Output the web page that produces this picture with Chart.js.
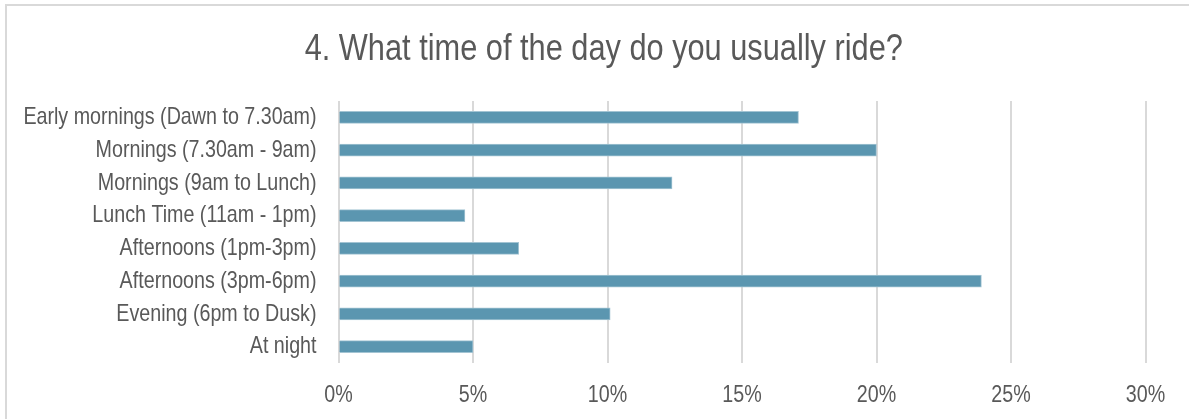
<!DOCTYPE html>
<html>
<head>
<meta charset="utf-8">
<script src="https://cdn.jsdelivr.net/npm/chart.js@4"></script>
<style>
  html, body { margin: 0; padding: 0; background: #ffffff; overflow: hidden; }
  #wrap { position: relative; width: 1189px; height: 419px; }
  #frame { position: absolute; left: 5px; top: 4px; width: 1200px; height: 430px;
           border-top: 2px solid #d9d9d9; border-left: 2px solid #d9d9d9; box-sizing: border-box; }
  canvas { position: absolute; left: 0; top: 0; }
  #title { position: absolute; left: 0; top: 28.5px; width: 1208px; text-align: center;
           font-family: 'Liberation Sans', Arial, sans-serif; font-size: 37.5px; line-height: 1;
           color: #595959; white-space: nowrap; }
  #title span { display: inline-block; transform: scaleX(0.82); transform-origin: 50% 50%; }
</style>
</head>
<body>
<div id="wrap">
  <div id="frame"></div>
  <canvas id="c" width="1189" height="419"></canvas>
  <div id="title"><span id="titleText"></span></div>
</div>
<script>
const titleText = "4. What time of the day do you usually ride?";
const categories = [
  "Early mornings (Dawn to 7.30am)",
  "Mornings (7.30am - 9am)",
  "Mornings (9am to Lunch)",
  "Lunch Time (11am - 1pm)",
  "Afternoons (1pm-3pm)",
  "Afternoons (3pm-6pm)",
  "Evening (6pm to Dusk)",
  "At night"
];
const shares = [17.1, 20.0, 12.4, 4.7, 6.7, 23.9, 10.1, 5.0];
const tickValues = [0, 5, 10, 15, 20, 25, 30];

document.getElementById("titleText").textContent = titleText;

// Emulate a narrow (condensed) face: draw canvas text horizontally compressed.
const NARROW = 0.82;
const origFill = CanvasRenderingContext2D.prototype.fillText;
CanvasRenderingContext2D.prototype.fillText = function (t, x, y, mw) {
  const w = this.measureText(t).width * NARROW;
  return origFill.call(this, t, x, y, mw !== undefined ? Math.min(mw, w) : w);
};

const FONT = "'Liberation Sans', Arial, sans-serif";
const TEXT = "#595959";

new Chart(document.getElementById("c"), {
  type: "bar",
  data: {
    labels: categories,
    datasets: [{
      data: shares,
      backgroundColor: "#5b96b0",
      borderColor: "#a3c4d3",
      borderWidth: 1,
      barThickness: 12
    }]
  },
  options: {
    indexAxis: "y",
    responsive: false,
    animation: false,
    layout: { padding: { left: 0, right: 43.5, top: 101, bottom: 8.9 } },
    plugins: {
      legend: { display: false },
      tooltip: { enabled: false },
      title: { display: false }
    },
    scales: {
      x: {
        min: 0, max: 30,
        afterBuildTicks: (axis) => { axis.ticks = tickValues.map(v => ({ value: v })); },
        afterFit: (axis) => { axis.height = 47.1; axis.paddingLeft = 0; axis.paddingRight = 0; },
        ticks: {
          color: TEXT,
          font: { family: FONT, size: 24, lineHeight: 1.2 },
          padding: 18.3,
          maxRotation: 0,
          callback: (v) => v + "%"
        },
        grid: { color: "#d9d9d9", lineWidth: 2, drawTicks: false },
        border: { display: false }
      },
      y: {
        afterFit: (axis) => { axis.width = 338.5; axis.paddingTop = 0; axis.paddingBottom = 0; },
        ticks: {
          color: TEXT,
          font: { family: FONT, size: 24, lineHeight: 1.2 },
          padding: 22,
          autoSkip: false
        },
        grid: { display: false, drawTicks: false },
        border: { display: false }
      }
    }
  }
});
</script>
</body>
</html>
